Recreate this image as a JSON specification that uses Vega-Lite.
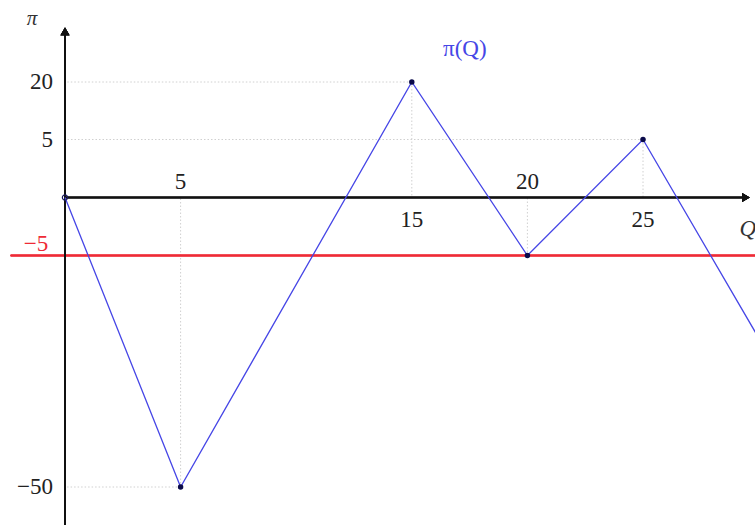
{
  "$schema": "https://vega.github.io/schema/vega-lite/v6.json",
  "width": 755,
  "height": 525,
  "autosize": "none",
  "padding": 0,
  "background": "white",
  "config": {"view": {"stroke": null}, "text": {"font": "Liberation Serif", "fontSize": 23}},
  "data": {"values": [
    {"Q": 0, "pi": 0},
    {"Q": 5, "pi": -50},
    {"Q": 15, "pi": 20},
    {"Q": 20, "pi": -5},
    {"Q": 25, "pi": 5},
    {"Q": 30, "pi": -21}
  ]},
  "layer": [
    {
      "transform": [{"filter": "datum.Q > 0 && datum.Q <= 25 && datum.pi != -5"}],
      "mark": {"type": "rule", "color": "#d0d0d0", "strokeWidth": 1, "strokeDash": [1.5, 2]},
      "encoding": {
        "x": {"field": "Q", "type": "quantitative", "scale": {"domain": [0, 25], "range": [65, 643], "nice": false, "zero": false}, "axis": null},
        "x2": {"datum": 0},
        "y": {"field": "pi", "type": "quantitative", "scale": {"domain": [-50, -5, 0, 5, 20], "range": [487, 255.5, 197.5, 139.5, 82], "nice": false, "zero": false}, "axis": null}
      }
    },
    {
      "transform": [{"filter": "datum.Q > 0 && datum.Q <= 25"}],
      "mark": {"type": "rule", "color": "#d0d0d0", "strokeWidth": 1, "strokeDash": [1.5, 2]},
      "encoding": {
        "x": {"field": "Q", "type": "quantitative", "scale": {"domain": [0, 25], "range": [65, 643], "nice": false, "zero": false}, "axis": null},
        "y": {"field": "pi", "type": "quantitative", "scale": {"domain": [-50, -5, 0, 5, 20], "range": [487, 255.5, 197.5, 139.5, 82], "nice": false, "zero": false}, "axis": null},
        "y2": {"datum": 0}
      }
    },
    {
      "mark": {"type": "rule", "color": "#ee2b36", "stroke": "#ee2b36", "strokeWidth": 1.3, "clip": true},
      "encoding": {
        "x": {"datum": -2.35, "type": "quantitative", "scale": {"domain": [0, 25], "range": [65, 643], "nice": false, "zero": false}, "axis": null},
        "x2": {"datum": 31},
        "y": {"datum": -5, "type": "quantitative", "scale": {"domain": [-50, -5, 0, 5, 20], "range": [487, 255.5, 197.5, 139.5, 82], "nice": false, "zero": false}, "axis": null}
      }
    },
    {
      "mark": {"type": "rule", "color": "#111111", "strokeWidth": 1.5},
      "encoding": {
        "x": {"datum": 0, "type": "quantitative", "scale": {"domain": [0, 25], "range": [65, 643], "nice": false, "zero": false}, "axis": null},
        "x2": {"datum": 29.3},
        "y": {"datum": 0, "type": "quantitative", "scale": {"domain": [-50, -5, 0, 5, 20], "range": [487, 255.5, 197.5, 139.5, 82], "nice": false, "zero": false}, "axis": null}
      }
    },
    {
      "mark": {"type": "rule", "color": "#111111", "strokeWidth": 1.5, "clip": true},
      "encoding": {
        "x": {"datum": 0, "type": "quantitative", "scale": {"domain": [0, 25], "range": [65, 643], "nice": false, "zero": false}, "axis": null},
        "y": {"datum": -60, "type": "quantitative", "scale": {"domain": [-50, -5, 0, 5, 20], "range": [487, 255.5, 197.5, 139.5, 82], "nice": false, "zero": false}, "axis": null},
        "y2": {"datum": 32.5}
      }
    },
    {
      "mark": {"type": "point", "shape": "triangle-right", "filled": true, "color": "#111111", "size": 80, "opacity": 1},
      "encoding": {
        "x": {"datum": 29.45, "type": "quantitative", "scale": {"domain": [0, 25], "range": [65, 643], "nice": false, "zero": false}, "axis": null},
        "y": {"datum": 0, "type": "quantitative", "scale": {"domain": [-50, -5, 0, 5, 20], "range": [487, 255.5, 197.5, 139.5, 82], "nice": false, "zero": false}, "axis": null}
      }
    },
    {
      "mark": {"type": "point", "shape": "triangle-up", "filled": true, "color": "#111111", "size": 80, "opacity": 1},
      "encoding": {
        "x": {"datum": 0, "type": "quantitative", "scale": {"domain": [0, 25], "range": [65, 643], "nice": false, "zero": false}, "axis": null},
        "y": {"datum": 33.2, "type": "quantitative", "scale": {"domain": [-50, -5, 0, 5, 20], "range": [487, 255.5, 197.5, 139.5, 82], "nice": false, "zero": false}, "axis": null}
      }
    },
    {
      "mark": {"type": "line", "color": "#4646e6", "strokeWidth": 1.3, "clip": true},
      "encoding": {
        "x": {"field": "Q", "type": "quantitative", "scale": {"domain": [0, 25], "range": [65, 643], "nice": false, "zero": false}, "axis": null},
        "y": {"field": "pi", "type": "quantitative", "scale": {"domain": [-50, -5, 0, 5, 20], "range": [487, 255.5, 197.5, 139.5, 82], "nice": false, "zero": false}, "axis": null}
      }
    },
    {
      "transform": [{"filter": "datum.Q > 0 && datum.Q <= 25"}],
      "mark": {"type": "point", "filled": true, "color": "#0a0a4a", "size": 30, "opacity": 1},
      "encoding": {
        "x": {"field": "Q", "type": "quantitative", "scale": {"domain": [0, 25], "range": [65, 643], "nice": false, "zero": false}, "axis": null},
        "y": {"field": "pi", "type": "quantitative", "scale": {"domain": [-50, -5, 0, 5, 20], "range": [487, 255.5, 197.5, 139.5, 82], "nice": false, "zero": false}, "axis": null}
      }
    },
    {
      "transform": [{"filter": "datum.Q == 0"}],
      "mark": {"type": "point", "filled": false, "color": "#1a1a5a", "size": 28, "strokeWidth": 1.2, "opacity": 1},
      "encoding": {
        "x": {"field": "Q", "type": "quantitative", "scale": {"domain": [0, 25], "range": [65, 643], "nice": false, "zero": false}, "axis": null},
        "y": {"field": "pi", "type": "quantitative", "scale": {"domain": [-50, -5, 0, 5, 20], "range": [487, 255.5, 197.5, 139.5, 82], "nice": false, "zero": false}, "axis": null}
      }
    },
    {
      "transform": [{"filter": "datum.Q > 0 && datum.Q <= 25 && datum.pi < 0"}],
      "mark": {"type": "text", "color": "#222222", "baseline": "middle", "align": "center", "dy": -16},
      "encoding": {
        "x": {"field": "Q", "type": "quantitative", "scale": {"domain": [0, 25], "range": [65, 643], "nice": false, "zero": false}, "axis": null},
        "y": {"datum": 0, "type": "quantitative", "scale": {"domain": [-50, -5, 0, 5, 20], "range": [487, 255.5, 197.5, 139.5, 82], "nice": false, "zero": false}, "axis": null},
        "text": {"field": "Q", "type": "quantitative"}
      }
    },
    {
      "transform": [{"filter": "datum.Q > 0 && datum.Q <= 25 && datum.pi > 0"}],
      "mark": {"type": "text", "color": "#222222", "baseline": "middle", "align": "center", "dy": 22},
      "encoding": {
        "x": {"field": "Q", "type": "quantitative", "scale": {"domain": [0, 25], "range": [65, 643], "nice": false, "zero": false}, "axis": null},
        "y": {"datum": 0, "type": "quantitative", "scale": {"domain": [-50, -5, 0, 5, 20], "range": [487, 255.5, 197.5, 139.5, 82], "nice": false, "zero": false}, "axis": null},
        "text": {"field": "Q", "type": "quantitative"}
      }
    },
    {
      "transform": [{"filter": "datum.Q > 0 && datum.Q <= 25 && datum.pi != -5"}],
      "mark": {"type": "text", "color": "#222222", "baseline": "middle", "align": "right", "dx": -12},
      "encoding": {
        "x": {"datum": 0, "type": "quantitative", "scale": {"domain": [0, 25], "range": [65, 643], "nice": false, "zero": false}, "axis": null},
        "y": {"field": "pi", "type": "quantitative", "scale": {"domain": [-50, -5, 0, 5, 20], "range": [487, 255.5, 197.5, 139.5, 82], "nice": false, "zero": false}, "axis": null},
        "text": {"field": "pi", "type": "quantitative"}
      }
    },
    {
      "transform": [{"filter": "datum.pi == -5"}],
      "mark": {"type": "text", "color": "#ee2b36", "baseline": "middle", "align": "center", "dx": -29, "dy": -12},
      "encoding": {
        "x": {"datum": 0, "type": "quantitative", "scale": {"domain": [0, 25], "range": [65, 643], "nice": false, "zero": false}, "axis": null},
        "y": {"field": "pi", "type": "quantitative", "scale": {"domain": [-50, -5, 0, 5, 20], "range": [487, 255.5, 197.5, 139.5, 82], "nice": false, "zero": false}, "axis": null},
        "text": {"field": "pi", "type": "quantitative"}
      }
    },
    {
      "transform": [{"filter": "datum.Q == 15"}],
      "mark": {"type": "text", "color": "#4646e6", "baseline": "middle", "align": "center", "dx": 53, "dy": -33, "text": "π(Q)"},
      "encoding": {
        "x": {"field": "Q", "type": "quantitative", "scale": {"domain": [0, 25], "range": [65, 643], "nice": false, "zero": false}, "axis": null},
        "y": {"field": "pi", "type": "quantitative", "scale": {"domain": [-50, -5, 0, 5, 20], "range": [487, 255.5, 197.5, 139.5, 82], "nice": false, "zero": false}, "axis": null}
      }
    },
    {
      "transform": [{"filter": "datum.Q == 0"}],
      "mark": {"type": "text", "color": "#333333", "baseline": "middle", "align": "center", "fontStyle": "italic", "fontSize": 21, "dx": -33, "dy": -12, "text": "π"},
      "encoding": {
        "x": {"datum": 0, "type": "quantitative", "scale": {"domain": [0, 25], "range": [65, 643], "nice": false, "zero": false}, "axis": null},
        "y": {"datum": 33.2, "type": "quantitative", "scale": {"domain": [-50, -5, 0, 5, 20], "range": [487, 255.5, 197.5, 139.5, 82], "nice": false, "zero": false}, "axis": null}
      }
    },
    {
      "transform": [{"filter": "datum.Q == 0"}],
      "mark": {"type": "text", "color": "#333333", "baseline": "middle", "align": "center", "fontStyle": "italic", "dx": 2, "dy": 31, "text": "Q"},
      "encoding": {
        "x": {"datum": 29.45, "type": "quantitative", "scale": {"domain": [0, 25], "range": [65, 643], "nice": false, "zero": false}, "axis": null},
        "y": {"datum": 0, "type": "quantitative", "scale": {"domain": [-50, -5, 0, 5, 20], "range": [487, 255.5, 197.5, 139.5, 82], "nice": false, "zero": false}, "axis": null}
      }
    }
  ]
}
